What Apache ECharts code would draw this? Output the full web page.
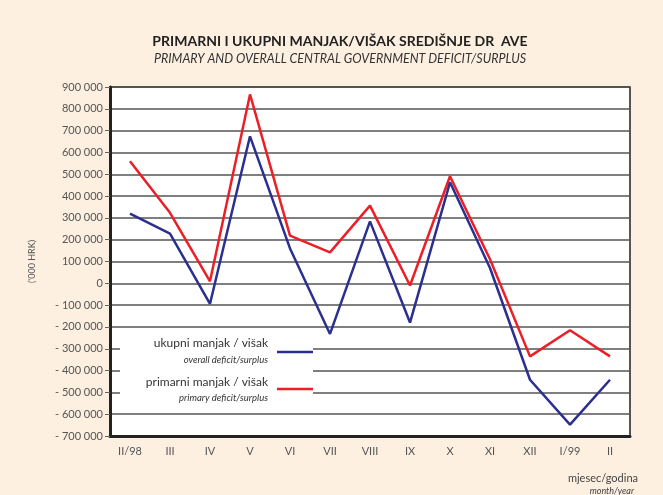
<!DOCTYPE html>
<html>
<head>
<meta charset="utf-8">
<script src="https://cdn.jsdelivr.net/npm/echarts@6/dist/echarts.min.js"></script>
<style>
  html, body { margin: 0; padding: 0; background: #fdf0e1; }
  #chart { width: 663px; height: 495px; }
</style>
</head>
<body>
<div id="chart"></div>
<script>
const months = ["II/98", "III", "IV", "V", "VI", "VII", "VIII", "IX", "X", "XI", "XII", "I/99", "II"];
const overall = [320000, 228000, -94000, 674000, 160000, -232000, 284000, -180000, 463000, 70000, -442000, -648000, -442000];
const primary = [560000, 323000, 9000, 866000, 219000, 142000, 356000, -10000, 491000, 110000, -335000, -215000, -335000];

const txt = "#555";
const font = "Lato, 'Open Sans', sans-serif";

const fmt = v => {
  const s = Math.abs(v).toString().replace(/\B(?=(\d{3})+(?!\d))/g, " ");
  return v < 0 ? "- " + s : s;
};

const chart = echarts.init(document.getElementById("chart"));
chart.setOption({
  backgroundColor: "#fdf0e1",
  animation: false,
  textStyle: { fontFamily: font },
  title: [
    {
      text: "PRIMARNI I UKUPNI MANJAK/VIŠAK SREDIŠNJE DR  AVE",
      left: 335, top: 29, textAlign: "center",
      textStyle: { fontSize: 14, fontWeight: "bold", color: "#222", fontFamily: font }
    },
    {
      text: "PRIMARY AND OVERALL CENTRAL GOVERNMENT DEFICIT/SURPLUS",
      left: 335, top: 47, textAlign: "center",
      textStyle: { fontSize: 12.5, fontStyle: "italic", fontWeight: "normal", color: "#333", fontFamily: font }
    }
  ],
  grid: { left: 110, right: 33, top: 87, bottom: 59, show: true, backgroundColor: "#fff", borderColor: "#222", borderWidth: 1.5 },
  xAxis: {
    type: "category",
    data: months,
    boundaryGap: true,
    axisLine: { onZero: false, lineStyle: { color: "#222", width: 3 } },
    axisTick: { show: false },
    axisLabel: { color: txt, fontSize: 11, margin: 10 }
  },
  yAxis: {
    type: "value",
    min: -700000, max: 900000, interval: 100000,
    name: "('000 HRK)",
    nameLocation: "middle",
    nameRotate: 90,
    nameGap: 73,
    nameTextStyle: { color: txt, fontSize: 9 },
    axisLine: { show: true, lineStyle: { color: "#222", width: 3 } },
    axisTick: { show: true, length: 5, lineStyle: { color: "#666" } },
    axisLabel: { color: txt, fontSize: 11, margin: 7, formatter: fmt },
    splitLine: { lineStyle: { color: "#555", width: 1.5 } }
  },
  series: [
    {
      name: "ukupni manjak / višak",
      type: "line", data: overall, symbol: "none",
      lineStyle: { color: "#2b2f90", width: 2.5 }, z: 3
    },
    {
      name: "primarni manjak / višak",
      type: "line", data: primary, symbol: "none",
      lineStyle: { color: "#ec1f27", width: 2.5 }, z: 2
    }
  ],
  graphic: [
    { type: "rect", shape: { x: 120, y: 333, width: 193, height: 75 }, style: { fill: "#fff" }, z: 10 },
    { type: "text", x: 268, y: 343, style: { text: "ukupni manjak / višak", align: "right", verticalAlign: "middle", fontSize: 12, fill: "#333", fontFamily: font }, z: 11 },
    { type: "text", x: 268, y: 360, style: { text: "overall deficit/surplus", align: "right", verticalAlign: "middle", fontSize: 9.5, fontStyle: "italic", fill: "#333", fontFamily: font }, z: 11 },
    { type: "line", shape: { x1: 277, y1: 352, x2: 313, y2: 352 }, style: { stroke: "#2b2f90", lineWidth: 2.5 }, z: 11 },
    { type: "text", x: 268, y: 382, style: { text: "primarni manjak / višak", align: "right", verticalAlign: "middle", fontSize: 12, fill: "#333", fontFamily: font }, z: 11 },
    { type: "text", x: 268, y: 398, style: { text: "primary deficit/surplus", align: "right", verticalAlign: "middle", fontSize: 9.5, fontStyle: "italic", fill: "#333", fontFamily: font }, z: 11 },
    { type: "line", shape: { x1: 277, y1: 389, x2: 313, y2: 389 }, style: { stroke: "#ec1f27", lineWidth: 2.5 }, z: 11 },
    { type: "text", x: 638, y: 478, style: { text: "mjesec/godina", align: "right", verticalAlign: "middle", fontSize: 11, fill: "#444", fontFamily: font } },
    { type: "text", x: 634, y: 491, style: { text: "month/year", align: "right", verticalAlign: "middle", fontSize: 9, fontStyle: "italic", fill: "#444", fontFamily: font } }
  ]
});
</script>
</body>
</html>
